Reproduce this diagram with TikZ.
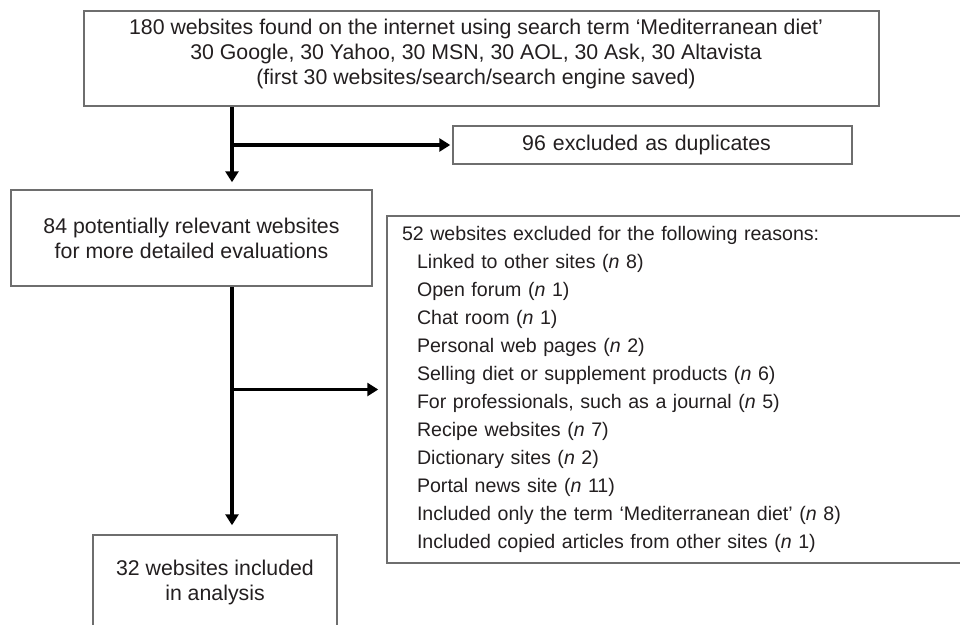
\documentclass[tikz,border=0pt]{standalone}
\usepackage{fontspec}
\setmainfont{Liberation Sans}
\usetikzlibrary{arrows.meta}
\definecolor{boxline}{HTML}{6E6E6E}
\definecolor{ink}{HTML}{231F20}
\begin{document}
\begin{tikzpicture}[x=1pt,y=-1pt,
  box/.style={draw=boxline, line width=1.5pt, rectangle, inner sep=0pt, text=ink,
    font=\fontsize{21.3}{25}\selectfont, align=center},
  plaintext/.style={inner sep=0pt, text=ink, font=\fontsize{21.3}{25}\selectfont, align=center},
  arr/.style={draw=black, line width=3.5pt, -{Triangle[length=11pt,width=13pt]}}]
\useasboundingbox (0,0) rectangle (960,624);
\clip (0,0) rectangle (960,624);
\fill[white] (0,0) rectangle (960,624);
\coordinate (spine) at (232,0);

\node[box, minimum width=795pt, minimum height=95pt] (top) at (481.5,58.5) {};
\node[plaintext] (toptext) at (476,53.5)
  {180 websites found on the internet using search term ‘Mediterranean diet’\\
   30 Google, 30 Yahoo, 30 MSN, 30 AOL, 30 Ask, 30 Altavista\\
   (first 30 websites/search/search engine saved)};

\node[box, minimum width=399pt, minimum height=38pt, text width=387pt] (dup) at (652.5,145)
  {96 excluded as duplicates\hspace*{12pt}};

\node[box, minimum width=361pt, minimum height=96pt] (rel) at (191.5,238)
  {84 potentially relevant websites\\for more detailed evaluations};

\node[box, minimum width=603pt, minimum height=347pt, text width=573pt, align=left,
  font=\fontsize{19.6}{28}\selectfont] (excl) at (688.5,389.5)
  {52 websites excluded for the following reasons:\\
   \hspace*{15pt}Linked to other sites (\textit{n} 8)\\
   \hspace*{15pt}Open forum (\textit{n} 1)\\
   \hspace*{15pt}Chat room (\textit{n} 1)\\
   \hspace*{15pt}Personal web pages (\textit{n} 2)\\
   \hspace*{15pt}Selling diet or supplement products (\textit{n} 6)\\
   \hspace*{15pt}For professionals, such as a journal (\textit{n} 5)\\
   \hspace*{15pt}Recipe websites (\textit{n} 7)\\
   \hspace*{15pt}Dictionary sites (\textit{n} 2)\\
   \hspace*{15pt}Portal news site (\textit{n} 11)\\
   \hspace*{15pt}Included only the term ‘Mediterranean diet’ (\textit{n} 8)\\
   \hspace*{15pt}Included copied articles from other sites (\textit{n} 1)};

\node[box, minimum width=244pt, minimum height=95pt] (inc) at (215,582.5)
  {32 websites included\\in analysis};

\draw[arr, shorten >=7pt] (top.south -| spine) -- (rel.north -| spine);
\draw[arr, shorten >=2pt] (dup.west -| spine) -- (dup.west);
\draw[arr, shorten >=9pt] (rel.south -| spine) -- (inc.north -| spine);
\draw[arr, shorten >=8pt] (excl.west -| spine) -- (excl.west);
\end{tikzpicture}
\end{document}
